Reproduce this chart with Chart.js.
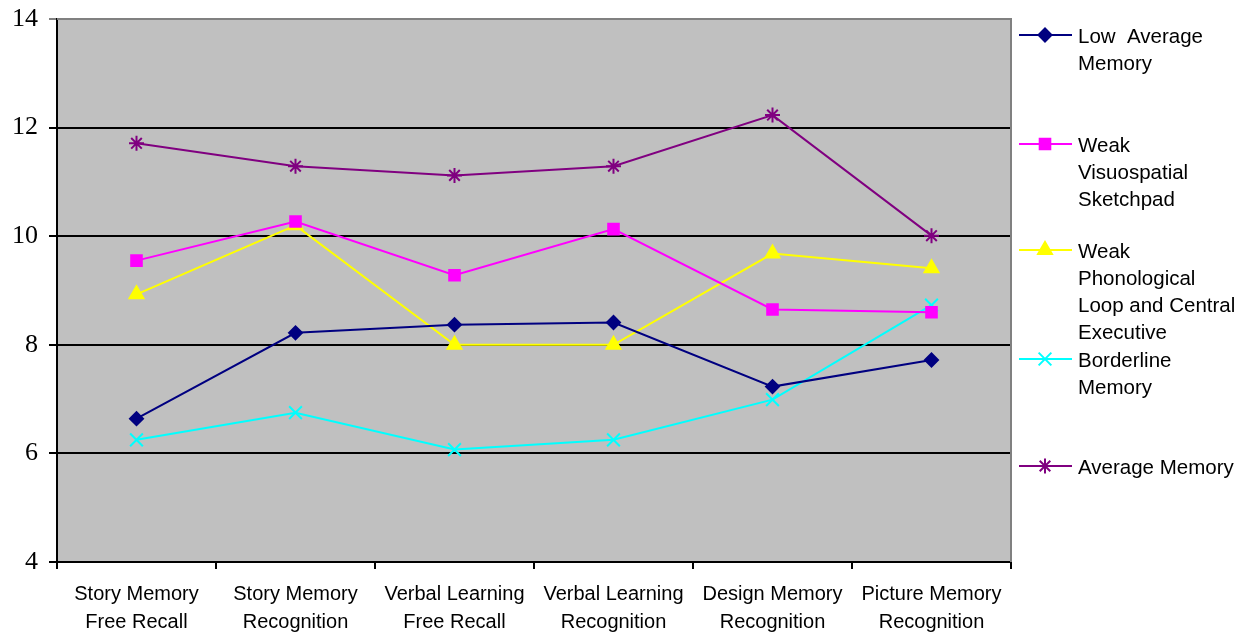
<!DOCTYPE html>
<html>
<head>
<meta charset="utf-8">
<script src="https://cdn.jsdelivr.net/npm/chart.js@4"></script>
<style>
  html, body { margin: 0; padding: 0; background: #fff; }
  #wrap { width: 1255px; height: 634px; position: relative; }
</style>
</head>
<body>
<div id="wrap"><canvas id="chart" width="1255" height="634"></canvas></div>
<script>
// ---- data ----
const categories = [
  ['Story Memory', 'Free Recall'],
  ['Story Memory', 'Recognition'],
  ['Verbal Learning', 'Free Recall'],
  ['Verbal Learning', 'Recognition'],
  ['Design Memory', 'Recognition'],
  ['Picture Memory', 'Recognition']
];
const lowAverage   = [6.64, 8.22, 8.37, 8.41, 7.23, 7.72];
const weakVisuo    = [9.55, 10.27, 9.28, 10.13, 8.65, 8.6];
const weakPhono    = [8.93, 10.2, 8.0, 8.0, 9.68, 9.41];
const borderline   = [6.25, 6.75, 6.07, 6.25, 6.99, 8.73];
const averageMem   = [11.71, 11.29, 11.12, 11.29, 12.23, 10.01];
const yTicks       = [4, 6, 8, 10, 12, 14];

const seriesLabels = [
  ['Low  Average', 'Memory'],
  ['Weak', 'Visuospatial', 'Sketchpad'],
  ['Weak', 'Phonological', 'Loop and Central', 'Executive'],
  ['Borderline', 'Memory'],
  ['Average Memory']
];

function ds(label, data, color, style, radius) {
  return {
    label, data,
    borderColor: color, backgroundColor: color,
    pointBackgroundColor: color, pointBorderColor: color,
    pointStyle: style, pointRadius: radius, pointBorderWidth: 2,
    borderWidth: 2, tension: 0, fill: false
  };
}

const datasets = [
  ds('Low Average Memory', lowAverage, '#000080', 'rectRot', 6.5),
  ds('Weak Visuospatial Sketchpad', weakVisuo, '#FF00FF', 'rect', 7.5),
  ds('Weak Phonological Loop and Central Executive', weakPhono, '#FFFF00', 'triangle', 8),
  ds('Borderline Memory', borderline, '#00FFFF', 'crossRot', 9),
  ds('Average Memory', averageMem, '#800080', 'star', 7.5)
];

// gray plot background + gray top/right border
const plotBg = {
  id: 'plotBg',
  beforeDraw(chart) {
    const { ctx, chartArea: a } = chart;
    ctx.save();
    ctx.fillStyle = '#C0C0C0';
    ctx.fillRect(a.left, a.top, a.right - a.left, a.bottom - a.top);
    ctx.restore();
  },
  afterDatasetsDraw(chart) {
    const { ctx, chartArea: a } = chart;
    ctx.save();
    ctx.strokeStyle = '#808080';
    ctx.lineWidth = 2;
    ctx.beginPath();
    ctx.moveTo(a.left, a.top);
    ctx.lineTo(a.right, a.top);
    ctx.lineTo(a.right, a.bottom);
    ctx.stroke();
    ctx.restore();
  }
};

// legend on the right, drawn with the same point styles
const sideLegend = {
  id: 'sideLegend',
  afterDraw(chart) {
    const { ctx } = chart;
    const rowY = [35, 144, 250, 359, 466];
    ctx.save();
    ctx.font = '20.5px "Liberation Sans", Arial, sans-serif';
    ctx.textBaseline = 'middle';
    chart.data.datasets.forEach((d, i) => {
      const y = rowY[i];
      ctx.strokeStyle = d.borderColor;
      ctx.lineWidth = 2;
      ctx.beginPath();
      ctx.moveTo(1019, y);
      ctx.lineTo(1072, y);
      ctx.stroke();
      ctx.fillStyle = d.borderColor;
      Chart.helpers.drawPoint(ctx, {
        pointStyle: d.pointStyle, radius: d.pointRadius, borderWidth: 2, rotation: 0
      }, 1045, y);
      ctx.fillStyle = '#000';
      seriesLabels[i].forEach((t, j) => ctx.fillText(t, 1078, y + 2 + j * 27));
    });
    ctx.restore();
  }
};

new Chart(document.getElementById('chart'), {
  type: 'line',
  data: { labels: categories, datasets },
  plugins: [plotBg, sideLegend],
  options: {
    responsive: false,
    animation: false,
    layout: { padding: { top: 19, right: 244, left: 0, bottom: 0 } },
    plugins: { legend: { display: false }, tooltip: { enabled: false } },
    scales: {
      x: {
        type: 'category',
        offset: true,
        afterFit(s) { s.height = 72; s.paddingLeft = 0; s.paddingRight = 0; },
        grid: {
          offset: true, drawOnChartArea: false, drawTicks: true,
          tickLength: 7, color: '#000', lineWidth: 2
        },
        border: { display: true, color: '#000', width: 2 },
        ticks: {
          color: '#000', maxRotation: 0, autoSkip: false, padding: 11,
          font: { family: '"Liberation Sans", Arial, sans-serif', size: 20, lineHeight: 1.4 }
        }
      },
      y: {
        min: 4, max: 14,
        afterFit(s) { s.width = 57; s.paddingTop = 0; s.paddingBottom = 0; },
        afterBuildTicks(s) { s.ticks = yTicks.map(v => ({ value: v })); },
        grid: {
          color: c => (c.tick && c.tick.value === 14 ? '#808080' : '#000'),
          lineWidth: 2, tickLength: 8, drawTicks: true
        },
        border: { display: true, color: '#000', width: 2 },
        ticks: {
          color: '#000', padding: 11,
          font: { family: '"Liberation Serif", "Times New Roman", serif', size: 26 }
        }
      }
    }
  }
});
</script>
</body>
</html>
